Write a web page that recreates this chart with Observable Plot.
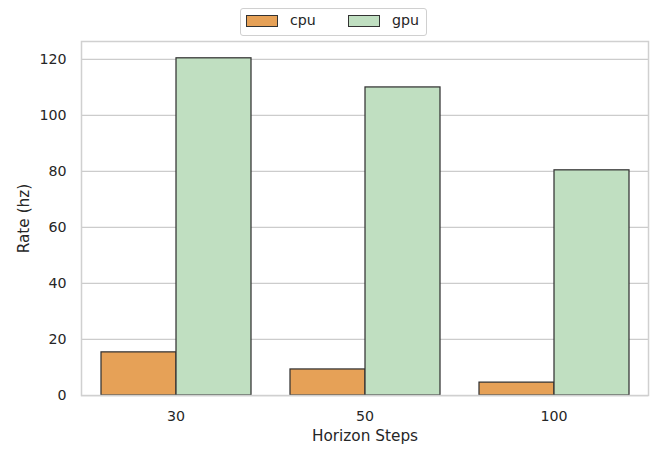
<!DOCTYPE html>
<html><head>
<meta charset="utf-8">
<script src="https://cdn.jsdelivr.net/npm/d3@7"></script>
<script src="https://cdn.jsdelivr.net/npm/@observablehq/plot@0.6"></script>
<style>
body{margin:0;background:#fff;font-family:"DejaVu Sans",sans-serif;color:#262626}
#legend{position:relative;width:666px;height:40px}
.lbox{position:absolute;left:240px;top:8px;width:185px;height:26px;border:1px solid #d0d0d0;border-radius:3px;background:#fff}
.sw{position:absolute;top:6px;width:30px;height:10px;border:1px solid #333}
.lt{position:absolute;top:3px;font-size:14.2px;line-height:16px}
svg text{fill:#262626}
</style>
</head><body>
<div id="legend"></div>
<div id="chart"></div>
<script>
const steps = ["30", "50", "100"];
const devices = ["cpu", "gpu"];
const cpuRate = [15.4, 9.3, 4.6];
const gpuRate = [120.4, 110.0, 80.4];
const colors = ["#e6a157", "#c0dfc1"];
const yTicks = [0, 20, 40, 60, 80, 100, 120];

const data = steps.flatMap((s, i) => [
  {step: s, device: "cpu", rate: cpuRate[i]},
  {step: s, device: "gpu", rate: gpuRate[i]}
]);

// legend
const box = document.createElement("div");
box.className = "lbox";
const swX = [5, 107], txX = [49, 151];
devices.forEach((d, i) => {
  const sw = document.createElement("div");
  sw.className = "sw"; sw.style.left = swX[i] + "px"; sw.style.background = colors[i];
  const t = document.createElement("div");
  t.className = "lt"; t.style.left = txX[i] + "px"; t.textContent = d;
  box.appendChild(sw); box.appendChild(t);
});
document.getElementById("legend").appendChild(box);

const chart = Plot.plot({
  width: 666, height: 422,
  marginTop: 1, marginBottom: 67, marginLeft: 81, marginRight: 18,
  style: {fontFamily: "DejaVu Sans", fontSize: "14.2px", color: "#262626", background: "#fff"},
  fx: {domain: steps, padding: 0, label: "Horizon Steps"},
  x: {domain: devices, paddingInner: 0, paddingOuter: 0.25, axis: null},
  y: {domain: [0, 126.4], label: "Rate (hz)"},
  color: {domain: devices, range: colors},
  marks: [
    Plot.gridY(yTicks, {stroke: "#cccccc", strokeOpacity: 1, strokeWidth: 1.25}),
    Plot.barY(data, {fx: "step", x: "device", y: "rate", fill: "device", stroke: "#333333", strokeWidth: 1.25}),
    Plot.frame({stroke: "#d0d0d0", strokeWidth: 1.5, facet: "super"}),
    Plot.axisY(yTicks, {tickSize: 0, tickPadding: 15, label: null}),
    Plot.axisY({tickSize: 0, ticks: [], label: "Rate (hz)", labelAnchor: "center", labelArrow: "none", labelOffset: 63, fontSize: "15.3px"}),
    Plot.axisFx({anchor: "bottom", tickSize: 0, tickPadding: 15, label: null}),
    Plot.axisFx({anchor: "bottom", tickSize: 0, ticks: [], label: "Horizon Steps", labelAnchor: "center", labelArrow: "none", labelOffset: 45, fontSize: "15.3px"})
  ]
});
document.getElementById("chart").appendChild(chart);
</script>
</body></html>
